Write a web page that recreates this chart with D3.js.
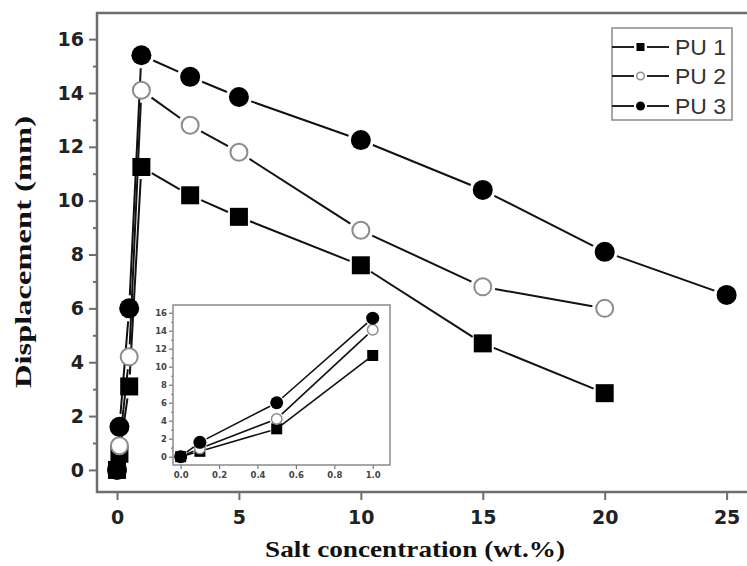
<!DOCTYPE html>
<html><head><meta charset="utf-8">
<script src="https://cdn.jsdelivr.net/npm/d3@7"></script>
<style>body{margin:0;background:#fff}svg{display:block}</style>
</head><body>
<svg id="c" width="747" height="566"></svg>
<script>
// ---- data ----
const xValues = [0, 0.1, 0.5, 1, 3, 5, 10, 15, 20, 25];
const pu1 = [0, 0.6, 3.1, 11.25, 10.2, 9.4, 7.6, 4.7, 2.85];
const pu2 = [0, 0.9, 4.2, 14.1, 12.8, 11.8, 8.9, 6.8, 6.0];
const pu3 = [0, 1.6, 6.0, 15.4, 14.6, 13.85, 12.25, 10.4, 8.1, 6.5];
const seriesNames = ["PU 1", "PU 2", "PU 3"];
const xTicks = [0, 5, 10, 15, 20, 25];
const yTicks = [0, 2, 4, 6, 8, 10, 12, 14, 16];
const yMinor = [1, 3, 5, 7, 9, 11, 13, 15];
const insetXTicks = [0, 0.2, 0.4, 0.6, 0.8, 1.0];
const insetYTicks = [0, 2, 4, 6, 8, 10, 12, 14, 16];
const insetMaxX = 1;

const svg = d3.select("#c");
const styles = [
  {type: "square", fill: "#000", stroke: "none"},
  {type: "circle", fill: "#fff", stroke: "#8c8c8c"},
  {type: "circle", fill: "#000", stroke: "none"}
];
const series = [pu1, pu2, pu3].map((vals, i) => ({
  name: seriesNames[i], style: styles[i],
  pts: vals.map((v, j) => ({x: xValues[j], y: v}))
}));

function marker(g, st, cx, cy, size, sw) {
  if (st.type === "square") {
    g.append("rect").attr("x", cx - size / 2).attr("y", cy - size / 2)
      .attr("width", size).attr("height", size).attr("fill", st.fill);
  } else {
    g.append("circle").attr("cx", cx).attr("cy", cy).attr("r", size / 2 - (st.stroke !== "none" ? sw / 2 : 0))
      .attr("fill", st.fill).attr("stroke", st.stroke).attr("stroke-width", sw);
  }
}

function drawLines(g, pts, xs, ys, gap, lw) {
  for (let i = 0; i < pts.length - 1; i++) {
    const x1 = xs(pts[i].x), y1 = ys(pts[i].y), x2 = xs(pts[i + 1].x), y2 = ys(pts[i + 1].y);
    const dx = x2 - x1, dy = y2 - y1, L = Math.hypot(dx, dy);
    if (L <= 2 * gap) continue;
    const ux = dx / L, uy = dy / L;
    g.append("line").attr("x1", x1 + ux * gap).attr("y1", y1 + uy * gap)
      .attr("x2", x2 - ux * gap).attr("y2", y2 - uy * gap)
      .attr("stroke", "#111").attr("stroke-width", lw);
  }
}

// ---- main chart ----
const L = 97, R = 751, T = 13, B = 492;
const x = d3.scaleLinear().domain([-0.82, 26.0]).range([L, R]);
const y = d3.scaleLinear().domain([-0.82, 16.97]).range([B, T]);

const frameCol = "#6e6e6e";
const tickFont = "'DejaVu Sans', 'Liberation Sans', Arial, sans-serif";

// axes
const yAxis = svg.append("g").attr("transform", `translate(${L},0)`)
  .call(d3.axisLeft(y).tickValues(yTicks).tickSize(8).tickPadding(5).tickFormat(d3.format("d")));
svg.append("g").attr("transform", `translate(${L},0)`)
  .call(d3.axisLeft(y).tickValues(yMinor).tickSize(4).tickFormat(""))
  .call(g => g.select(".domain").remove());
const xAxis = svg.append("g").attr("transform", `translate(0,${B})`)
  .call(d3.axisBottom(x).tickValues(xTicks).tickSize(8).tickPadding(11).tickFormat(d3.format("d")));
svg.selectAll(".tick line").attr("stroke", frameCol).attr("stroke-width", 2);
svg.selectAll(".domain").remove();
[yAxis, xAxis].forEach(a => a.selectAll("text")
  .attr("font-family", tickFont).attr("font-weight", "bold").attr("font-size", 19).attr("fill", "#222"));

// frame
svg.append("rect").attr("x", L).attr("y", T).attr("width", R - L).attr("height", B - T)
  .attr("fill", "none").attr("stroke", frameCol).attr("stroke-width", 2.5);

// series lines + markers
const mainG = svg.append("g");
const mainSize = [18, 19, 20];
series.forEach((s, i) => drawLines(mainG, s.pts, x, y, mainSize[i] / 2 + 3, 2));
series.forEach((s, i) => s.pts.forEach(p => marker(mainG, s.style, x(p.x), y(p.y), mainSize[i], 2)));

// axis titles
svg.append("text").attr("transform", `translate(31,252) rotate(-90)`)
  .attr("text-anchor", "middle").attr("font-family", "'Liberation Serif','Times New Roman',serif")
  .attr("font-weight", "bold").attr("font-size", 24).attr("fill", "#111")
  .attr("textLength", 272).attr("lengthAdjust", "spacingAndGlyphs")
  .text("Displacement (mm)");
svg.append("text").attr("x", 415).attr("y", 557)
  .attr("text-anchor", "middle").attr("font-family", "'Liberation Serif','Times New Roman',serif")
  .attr("font-weight", "bold").attr("font-size", 23).attr("fill", "#111")
  .attr("textLength", 300).attr("lengthAdjust", "spacingAndGlyphs")
  .text("Salt concentration (wt.%)");

// ---- legend ----
const lg = svg.append("g");
lg.append("rect").attr("x", 612).attr("y", 28).attr("width", 120).attr("height", 92)
  .attr("fill", "#fff").attr("stroke", "#8a8a8a").attr("stroke-width", 1.5);
const legendY = [47, 76, 106];
series.forEach((s, i) => {
  const yy = legendY[i];
  lg.append("line").attr("x1", 612).attr("x2", 634).attr("y1", yy).attr("y2", yy).attr("stroke", "#222").attr("stroke-width", 2);
  lg.append("line").attr("x1", 647).attr("x2", 669).attr("y1", yy).attr("y2", yy).attr("stroke", "#222").attr("stroke-width", 2);
  marker(lg, s.style, 640.5, yy, s.style.type === "square" ? 8 : 9, 1.5);
  lg.append("text").attr("x", 675).attr("y", yy + 8).attr("font-family", "'Liberation Sans',Arial,sans-serif")
    .attr("font-size", 22).attr("fill", "#333").attr("textLength", 51).attr("lengthAdjust", "spacingAndGlyphs").text(s.name);
});

// ---- inset ----
const iL = 173, iR = 390, iT = 305, iB = 465;
const ix = d3.scaleLinear().domain([-0.04, 1.09]).range([iL, iR]);
const iy = d3.scaleLinear().domain([-0.92, 16.86]).range([iB, iT]);
const ig = svg.append("g");
ig.append("rect").attr("x", iL).attr("y", iT).attr("width", iR - iL).attr("height", iB - iT).attr("fill", "#fff");
const iyAxis = ig.append("g").attr("transform", `translate(${iL},0)`)
  .call(d3.axisLeft(iy).tickValues(insetYTicks).tickSize(4).tickPadding(2).tickFormat(d3.format("d")));
ig.append("g").attr("transform", `translate(${iL},0)`)
  .call(d3.axisLeft(iy).tickValues(yMinor).tickSize(2).tickFormat(""));
const ixAxis = ig.append("g").attr("transform", `translate(0,${iB})`)
  .call(d3.axisBottom(ix).tickValues(insetXTicks).tickSize(4).tickPadding(3).tickFormat(d3.format(".1f")));
ig.selectAll(".domain").remove();
ig.selectAll(".tick line").attr("stroke", "#777").attr("stroke-width", 1.2);
[iyAxis, ixAxis].forEach(a => a.selectAll("text")
  .attr("font-family", tickFont).attr("font-weight", "bold").attr("font-size", 8.5).attr("fill", "#444"));
ig.append("rect").attr("x", iL).attr("y", iT).attr("width", iR - iL).attr("height", iB - iT)
  .attr("fill", "none").attr("stroke", "#8a8a8a").attr("stroke-width", 1.5);
const insetSeries = series.map(s => ({style: s.style, pts: s.pts.filter(p => p.x <= insetMaxX)}));
const insetSize = [11, 12, 13];
insetSeries.forEach((s, i) => drawLines(ig, s.pts, ix, iy, insetSize[i] / 2 + 1, 1.6));
insetSeries.forEach((s, i) => s.pts.forEach(p => marker(ig, s.style, ix(p.x), iy(p.y), insetSize[i], 1.5)));
</script>
</body></html>
